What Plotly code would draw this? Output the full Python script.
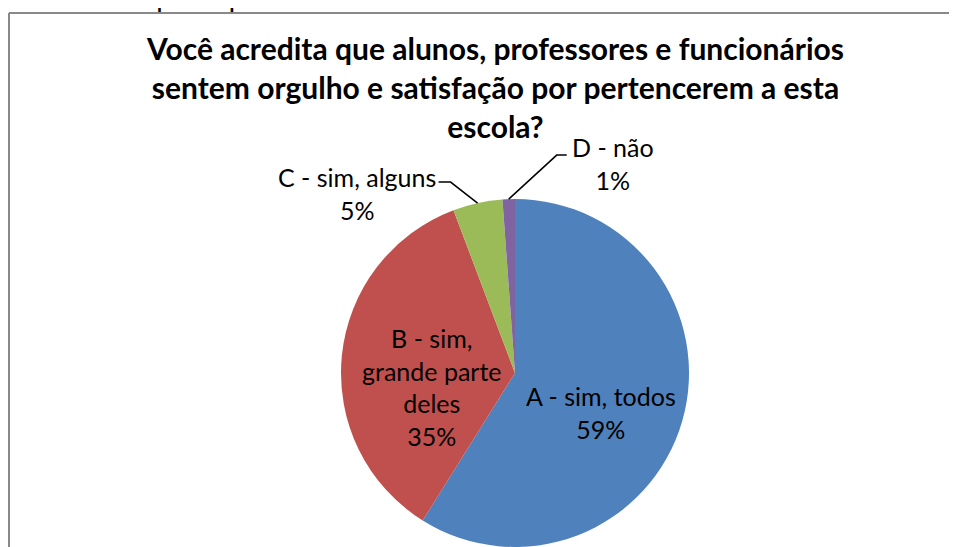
import math
import plotly.graph_objects as go

# data
labels = ["A - sim, todos", "B - sim, grande parte deles", "C - sim, alguns", "D - não"]
shown = ["A - sim, todos", "B - sim,<br>grande parte<br>deles", "C - sim, alguns", "D - não"]
values = [58.9, 35.35, 4.6, 1.15]
colors = ["#4F81BD", "#C0504D", "#9BBB59", "#8064A2"]

title = ("Você acredita que alunos, professores e funcionários<br>"
         "sentem orgulho e satisfação por pertencerem a esta<br>escola?")
caption = "Gráfico do Ceeteps – questão 73."

# the page body has an 8px margin, so the figure is drawn 8px smaller
OFF = 8
W, H = 957 - OFF, 547 - OFF
cx, cy, r = 515 - OFF, 373 - OFF, 174  # pie center / radius in px


def px(x, y):
    return x / W, 1 - y / H


total = sum(values)
pct = [f"{v / total * 100:.0f}%" for v in values]

fig = go.Figure()
fig.add_pie(
    labels=labels, values=values, sort=False, direction="clockwise", rotation=0,
    marker=dict(colors=colors, line=dict(width=0)),
    textinfo="none", textposition="none",
    domain=dict(x=[(cx - r) / W, (cx + r) / W], y=[0, 2 * r / H]),
    showlegend=False, hoverinfo="label+percent",
)


def slice_point(i, frac):
    start = sum(values[:i]) / total
    mid = (start + values[i] / total / 2) * 2 * math.pi
    return cx + frac * r * math.sin(mid), cy - frac * r * math.cos(mid)


label_font = dict(family="Lato", size=25, color="black")
shapes = []
annotations = []

# inside labels (A, B)
for i, shift in {0: (2, -15), 1: (4, -23)}.items():
    x, y = px(*slice_point(i, 0.5))
    annotations.append(dict(
        x=x, y=y, xref="paper", yref="paper", xshift=shift[0], yshift=shift[1],
        xanchor="center", yanchor="middle",
        showarrow=False, text=f"{shown[i]}<br>{pct[i]}", align="center",
        font=label_font))

# outside labels with elbow leader lines for the small slices
leaders = {2: ((-27, -21), (-39, -21), (-121, 10)),
           3: ((48, -44), (58, -44), (104, 36))}
for i, (elbow, end, off) in leaders.items():
    tx, ty = slice_point(i, 1.0)
    pts = [(tx, ty), (tx + elbow[0], ty + elbow[1]), (tx + end[0], ty + end[1])]
    path = "M " + " L ".join("{:.5f},{:.5f}".format(*px(x, y)) for x, y in pts)
    shapes.append(dict(type="path", xref="paper", yref="paper", path=path,
                       line=dict(color="black", width=1.5)))
    x, y = px(tx, ty)
    annotations.append(dict(
        x=x, y=y, xref="paper", yref="paper", xshift=off[0], yshift=off[1],
        xanchor="center", yanchor="middle",
        showarrow=False, text=f"{shown[i]}<br>{pct[i]}", align="center",
        font=label_font))

# chart frame (left and top edges; the rest lies outside the picture)
fx, fy = px(1, 5)
shapes.append(dict(type="line", xref="paper", yref="paper",
                   x0=fx, x1=fx, y0=0, y1=fy, line=dict(color="#898989", width=2)))
shapes.append(dict(type="line", xref="paper", yref="paper",
                   x0=fx, x1=1, y0=fy, y1=fy, line=dict(color="#898989", width=2)))

# title
tx, ty = px(495 - OFF, 87 - OFF)
annotations.append(dict(
    x=tx, y=ty, xref="paper", yref="paper", xanchor="center", yanchor="middle",
    showarrow=False, text=f"<b>{title}</b>", align="center",
    font=dict(family="Lato", size=30, color="black")))

# cut-off caption above the frame
tx, ty = px(373 - OFF, 14 - OFF)
annotations.append(dict(
    x=tx, y=ty, xref="paper", yref="paper", xanchor="right", yanchor="bottom",
    showarrow=False, text=caption,
    font=dict(family="Liberation Sans", size=29, color="black")))

fig.update_layout(
    width=W, height=H, margin=dict(l=0, r=0, t=0, b=0),
    paper_bgcolor="white", plot_bgcolor="white",
    shapes=shapes, annotations=annotations,
)

fig.write_html("out.html")
